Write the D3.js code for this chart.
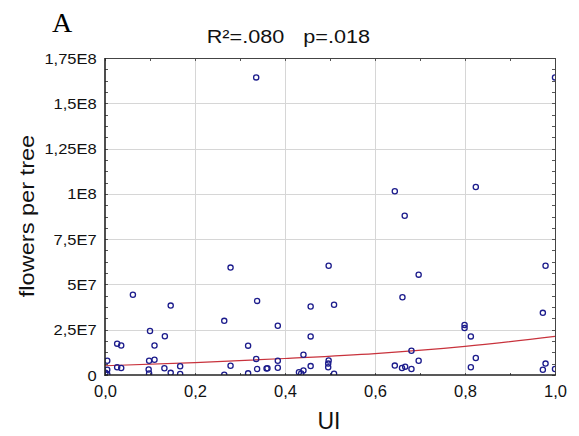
<!DOCTYPE html>
<html>
<head>
<meta charset="utf-8">
<script src="https://cdn.jsdelivr.net/npm/d3@7"></script>
<style>
  html, body { margin: 0; padding: 0; background: #fff; }
  svg { display: block; font-family: "Liberation Sans", Arial, sans-serif; }
</style>
</head>
<body>
<svg id="chart" width="579" height="436"></svg>
<script>
// ---- data ----
const uiValues = [0.062,0.146,0.100,0.133,0.027,0.036,0.110,0.005,0.098,0.110,0.027,0.036,0.005,0.097,0.132,0.167,0.146,0.167,0.098,0.005,0.001,
  0.279,0.336,0.338,0.457,0.509,0.497,0.265,0.384,0.457,0.318,0.441,0.336,0.384,0.497,0.279,0.496,0.496,0.338,0.359,0.361,0.384,0.457,0.441,0.431,0.436,0.265,0.318,0.509,
  0.644,0.666,0.824,1.000,0.697,0.661,0.681,0.697,0.644,0.660,0.667,0.681,0.799,0.799,0.813,0.824,0.813,0.979,0.973,0.979,0.973,1.000];
const flowersMillions = [44.3,38.3,24.3,21.4,17.3,16.3,16.3,7.9,7.9,8.4,4.3,3.9,2.9,3.0,3.75,4.8,1.2,0.55,0.8,0.4,1.3,
  59.3,164.3,40.9,37.8,38.8,60.3,29.9,27.2,21.3,16.2,11.2,8.9,7.9,8.0,5.1,6.3,4.25,3.3,3.6,3.7,4.0,4.9,2.5,1.5,0.8,0.1,0.9,0.7,
  101.4,87.9,103.8,164.3,55.4,42.9,13.4,7.9,5.2,3.9,4.6,3.3,27.6,25.9,21.3,9.4,4.3,60.3,34.3,6.3,2.9,3.3];
const fitUI = [0, 0.2, 0.4, 0.6, 0.8, 1.0];
const fitFlowersMillions = [5.1, 6.8, 9.1, 11.8, 15.8, 21.3];
const xTickValues = [0, 0.2, 0.4, 0.6, 0.8, 1.0];
const xTickLabels = ["0,0", "0,2", "0,4", "0,6", "0,8", "1,0"];
const yTickValues = [0, 2.5e7, 5e7, 7.5e7, 1e8, 1.25e8, 1.5e8, 1.75e8];
const yTickLabels = ["0", "2,5E7", "5E7", "7,5E7", "1E8", "1,25E8", "1,5E8", "1,75E8"];
const panelLabel = "A";
const statR2 = "R²=.080";
const statP = "p=.018";
const xTitle = "UI";
const yTitle = "flowers per tree";

// ---- layout ----
const L = 105, R = 555, T = 58, B = 375;
const svg = d3.select("#chart");
const x = d3.scaleLinear().domain([0, 1]).range([L, R]);
const y = d3.scaleLinear().domain([0, 1.75e8]).range([B, T]);

const points = uiValues.map((u, i) => ({ u, f: flowersMillions[i] * 1e6 }));
const fit = fitUI.map((u, i) => ({ u, f: fitFlowersMillions[i] * 1e6 }));

// grid
const grid = svg.append("g").attr("stroke", "#d6d6d6").attr("stroke-width", 1);
grid.selectAll(".gx").data(xTickValues.slice(1, -1)).join("line")
  .attr("x1", d => Math.round(x(d)) + 0.5).attr("x2", d => Math.round(x(d)) + 0.5)
  .attr("y1", T).attr("y2", B);
grid.selectAll(".gy").data(yTickValues.slice(1, -1)).join("line")
  .attr("y1", d => Math.round(y(d)) + 0.5).attr("y2", d => Math.round(y(d)) + 0.5)
  .attr("x1", L).attr("x2", R);

// minor / major tick marks (inside)
const minorY = d3.range(0, 1.75e8 + 1, 6.25e6);
const minorX = d3.range(0, 1.0001, 0.1);
const tk = svg.append("g").attr("stroke", "#555").attr("stroke-width", 1);
tk.selectAll(".ml").data(minorY).join("line")
  .attr("x1", L).attr("x2", L + 3)
  .attr("y1", d => Math.round(y(d)) + 0.5).attr("y2", d => Math.round(y(d)) + 0.5);
tk.selectAll(".mr").data(minorY).join("line")
  .attr("x1", R).attr("x2", R - 3)
  .attr("y1", d => Math.round(y(d)) + 0.5).attr("y2", d => Math.round(y(d)) + 0.5);
tk.selectAll(".mt").data(minorX).join("line")
  .attr("y1", T).attr("y2", T + 3)
  .attr("x1", d => Math.round(x(d)) + 0.5).attr("x2", d => Math.round(x(d)) + 0.5);
tk.selectAll(".mb").data(minorX).join("line")
  .attr("y1", B).attr("y2", B - 2)
  .attr("x1", d => Math.round(x(d)) + 0.5).attr("x2", d => Math.round(x(d)) + 0.5);

// frame
svg.append("line").attr("x1", L).attr("x2", R).attr("y1", T + 0.5).attr("y2", T + 0.5).attr("stroke", "#444").attr("stroke-width", 1);
svg.append("line").attr("x1", R + 0.5).attr("x2", R + 0.5).attr("y1", T).attr("y2", B).attr("stroke", "#444").attr("stroke-width", 1);

// clip
svg.append("clipPath").attr("id", "plotclip").append("rect")
  .attr("x", L).attr("y", T).attr("width", R - L).attr("height", B - T);

const plot = svg.append("g").attr("clip-path", "url(#plotclip)");

// fit line
plot.append("path").datum(fit)
  .attr("fill", "none").attr("stroke", "#c8323c").attr("stroke-width", 1.2)
  .attr("d", d3.line().x(d => x(d.u)).y(d => y(d.f)).curve(d3.curveMonotoneX));

// points
plot.selectAll("circle").data(points).join("circle")
  .attr("cx", d => x(d.u)).attr("cy", d => y(d.f)).attr("r", 2.6)
  .attr("fill", "none").attr("stroke", "#1c1c8c").attr("stroke-width", 1.3);

// axes lines (left and bottom, heavier)
svg.append("line").attr("x1", L).attr("x2", L).attr("y1", T).attr("y2", B + 1).attr("stroke", "#222").attr("stroke-width", 1.6);
svg.append("line").attr("x1", L).attr("x2", R + 1).attr("y1", B).attr("y2", B).attr("stroke", "#222").attr("stroke-width", 1.6);

// y axis labels
const yAxis = d3.axisLeft(y).tickValues(yTickValues)
  .tickFormat((d, i) => yTickLabels[i]).tickSize(0).tickPadding(0);
const gy = svg.append("g").attr("transform", `translate(${L},0)`).call(yAxis);
gy.select(".domain").remove();
gy.selectAll("text")
  .attr("font-family", "'Liberation Sans', Arial, sans-serif")
  .attr("font-size", 14).attr("fill", "#111")
  .attr("x", null).attr("dy", null)
  .attr("transform", "translate(-8.3,5) scale(1.18,1)");

// x axis labels
const xAxis = d3.axisBottom(x).tickValues(xTickValues)
  .tickFormat((d, i) => xTickLabels[i]).tickSize(0).tickPadding(0);
const gx = svg.append("g").attr("transform", `translate(0,${B})`).call(xAxis);
gx.select(".domain").remove();
gx.selectAll("text")
  .attr("font-family", "'Liberation Sans', Arial, sans-serif")
  .attr("font-size", 16.5).attr("fill", "#111")
  .attr("y", 22).attr("dy", null);

// axis titles
svg.append("text").attr("x", 329).attr("y", 428.5).attr("text-anchor", "middle")
  .attr("font-size", 23).attr("fill", "#111").text(xTitle);
svg.append("text").attr("transform", "translate(33.5,216) rotate(-90) scale(1.15,1)")
  .attr("text-anchor", "middle").attr("font-size", 20.5).attr("fill", "#111").text(yTitle);

// stats title
svg.append("text").attr("transform", "translate(206.7,42.7) scale(1.17,1)")
  .attr("font-size", 18.5).attr("fill", "#111").text(statR2);
svg.append("text").attr("transform", "translate(303.3,42.7) scale(1.17,1)")
  .attr("font-size", 18.5).attr("fill", "#111").text(statP);

// panel label
svg.append("text").attr("x", 52).attr("y", 31.7)
  .attr("font-family", "'Liberation Serif', 'Times New Roman', serif")
  .attr("font-size", 28).attr("fill", "#000").text(panelLabel);
</script>
</body>
</html>
